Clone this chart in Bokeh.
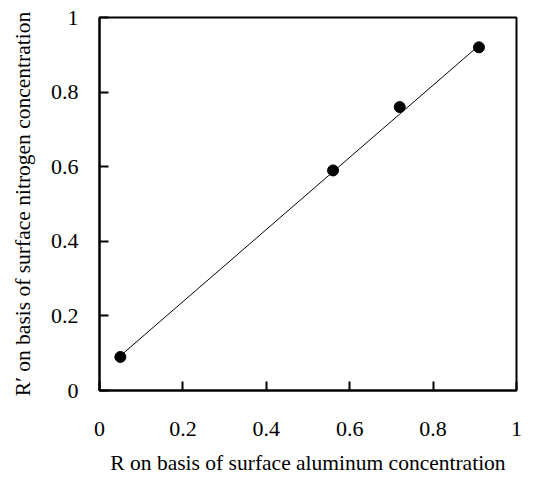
from bokeh.plotting import figure
from bokeh.models import FixedTicker, NumeralTickFormatter, Range1d
from bokeh.embed import file_html
from bokeh.resources import INLINE

# data
r_al = [0.05, 0.56, 0.72, 0.91]
r_n = [0.09, 0.59, 0.76, 0.92]
fit_x = [0.05, 0.91]
fit_y = [0.093, 0.925]
ticks = [0, 0.2, 0.4, 0.6, 0.8, 1]
x_title = "R on basis of surface aluminum concentration"
y_title = "R\u2032 on basis of surface nitrogen concentration"

FONT = "Liberation Serif"

p = figure(width=522, height=477, output_backend="svg", toolbar_location=None,
           x_range=Range1d(0, 1), y_range=Range1d(0, 1),
           min_border_left=99, min_border_right=6, min_border_top=17,
           min_border_bottom=86)
p.background_fill_color = "white"
p.border_fill_color = "white"
p.grid.visible = False
p.outline_line_color = "black"
p.outline_line_width = 2
p.outline_line_alpha = 1

for ax in (p.xaxis[0], p.yaxis[0]):
    ax.ticker = FixedTicker(ticks=ticks)
    ax.formatter = NumeralTickFormatter(format="0.[0]")
    ax.minor_tick_line_color = None
    ax.major_tick_in = 9
    ax.major_tick_out = 0
    ax.major_tick_line_width = 2
    ax.major_tick_line_color = "black"
    ax.axis_line_width = 2
    ax.axis_line_color = "black"
    ax.major_label_text_font = FONT
    ax.major_label_text_font_size = "22px"
    ax.major_label_text_font_style = "normal"
    ax.major_label_text_color = "black"
    ax.axis_label_text_font = FONT
    ax.axis_label_text_font_size = "21.5px"
    ax.axis_label_text_font_style = "normal"
    ax.axis_label_text_color = "black"

p.xaxis.axis_label = x_title
p.yaxis.axis_label = y_title
p.xaxis.major_label_standoff = 31
p.xaxis.axis_label_standoff = 12
p.yaxis.major_label_standoff = 21
p.yaxis.axis_label_standoff = 13

p.line(fit_x, fit_y, line_color="black", line_width=1)
p.scatter(r_al, r_n, size=11, marker="circle", fill_color="black", line_color="black")

open("out.html", "w").write(file_html(p, INLINE))
